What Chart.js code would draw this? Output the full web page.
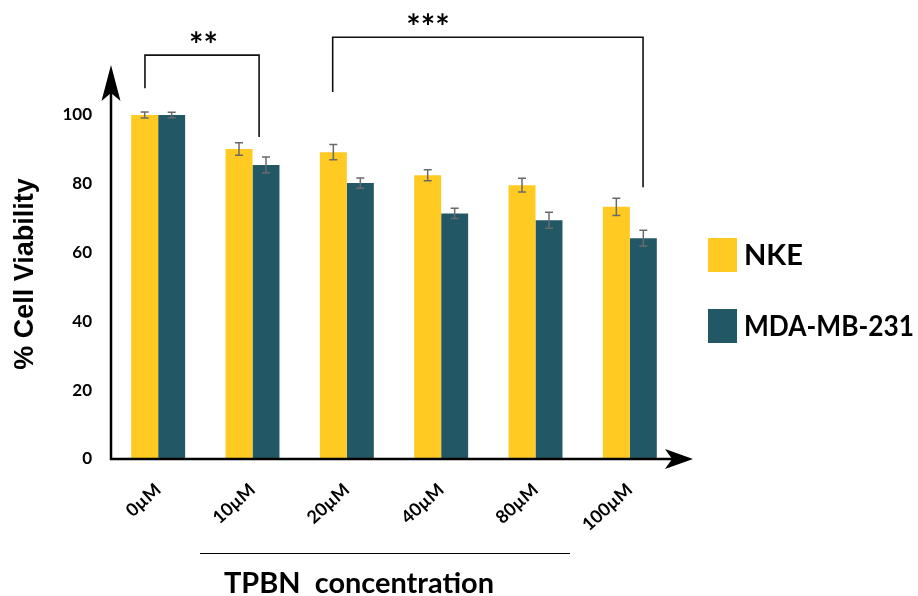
<!DOCTYPE html>
<html>
<head>
<meta charset="utf-8">
<script src="https://cdn.jsdelivr.net/npm/chart.js@4/dist/chart.umd.min.js"></script>
<style>
  html, body { margin: 0; padding: 0; background: #ffffff; }
  #wrap { width: 918px; height: 596px; position: relative; }
</style>
</head>
<body>
<div id="wrap"><canvas id="c" width="918" height="596"></canvas></div>
<script>
// ---- data ----
const categories = ['0µM', '10µM', '20µM', '40µM', '80µM', '100µM'];
const seriesNames = ['NKE', 'MDA-MB-231'];
const nkeValues = [100, 90.1, 89.2, 82.5, 79.6, 73.3];
const mdaValues = [100, 85.5, 80.2, 71.4, 69.4, 64.2];
const nkeErrors = [0.9, 1.8, 2.2, 1.6, 2.0, 2.5];
const mdaErrors = [0.8, 2.3, 1.5, 1.5, 2.3, 2.3];
const yTicks = [0, 20, 40, 60, 80, 100];
// significance brackets (x in category units, y in data units)
const brackets = [
  { x1: -0.14, x2: 1.07, yLeft: 107.8, yTop: 117.4, yRight: 93.6, labelX: 0.48, labelY: 122.4, label: '**' },
  { x1: 1.85, x2: 5.14, yLeft: 106.7, yTop: 122.6, yRight: 79.0, labelX: 2.86, labelY: 127.6, label: '***' }
];
const xTitle = 'TPBN  concentration';
const yTitle = '% Cell Viability';

const colors = ['#FFCB22', '#225866'];
const FONT = 'Lato, "Open Sans", sans-serif';

const errorBars = {
  id: 'errorBars',
  afterDatasetsDraw(chart) {
    const ctx = chart.ctx;
    const ys = chart.scales.y;
    const errs = [nkeErrors, mdaErrors];
    ctx.save();
    ctx.strokeStyle = '#6a6a6a';
    ctx.lineWidth = 1.5;
    chart.data.datasets.forEach((ds, di) => {
      const meta = chart.getDatasetMeta(di);
      meta.data.forEach((bar, i) => {
        const v = ds.data[i], e = errs[di][i];
        const yHi = ys.getPixelForValue(v + e), yLo = ys.getPixelForValue(v - e);
        const x = bar.x;
        ctx.beginPath();
        ctx.moveTo(x, yHi); ctx.lineTo(x, yLo);
        ctx.moveTo(x - 4, yHi); ctx.lineTo(x + 4, yHi);
        ctx.moveTo(x - 4, yLo); ctx.lineTo(x + 4, yLo);
        ctx.stroke();
      });
    });
    ctx.restore();
  }
};

function fitText(ctx, text, x, y, maxW) {
  const w = ctx.measureText(text).width;
  const s = Math.min(1, maxW / w);
  ctx.save();
  ctx.translate(x, y);
  ctx.scale(s, 1);
  ctx.fillText(text, 0, 0);
  ctx.restore();
}

const decorations = {
  id: 'decorations',
  afterDraw(chart) {
    const ctx = chart.ctx;
    const xs = chart.scales.x, ys = chart.scales.y;
    const a = chart.chartArea;
    ctx.save();
    // axes with arrows
    ctx.strokeStyle = '#000'; ctx.fillStyle = '#000'; ctx.lineWidth = 2.5;
    const tipY = a.top - 50, tipX = a.right + 16;
    ctx.beginPath();
    ctx.moveTo(a.left, a.bottom); ctx.lineTo(a.left, tipY + 20);
    ctx.moveTo(a.left - 1.2, a.bottom); ctx.lineTo(tipX - 20, a.bottom);
    ctx.stroke();
    // y arrowhead
    ctx.beginPath();
    ctx.moveTo(a.left, tipY);
    ctx.lineTo(a.left + 9.5, tipY + 36);
    ctx.lineTo(a.left, tipY + 28);
    ctx.lineTo(a.left - 9.5, tipY + 36);
    ctx.closePath(); ctx.fill();
    // x arrowhead
    ctx.beginPath();
    ctx.moveTo(tipX, a.bottom);
    ctx.lineTo(tipX - 28, a.bottom + 10);
    ctx.lineTo(tipX - 21, a.bottom);
    ctx.lineTo(tipX - 28, a.bottom - 10);
    ctx.closePath(); ctx.fill();

    // brackets
    ctx.lineWidth = 1.6;
    ctx.strokeStyle = '#111';
    brackets.forEach(b => {
      const x1 = xs.getPixelForValue(b.x1), x2 = xs.getPixelForValue(b.x2);
      ctx.beginPath();
      ctx.moveTo(x1, ys.getPixelForValue(b.yLeft));
      ctx.lineTo(x1, ys.getPixelForValue(b.yTop));
      ctx.lineTo(x2, ys.getPixelForValue(b.yTop));
      ctx.lineTo(x2, ys.getPixelForValue(b.yRight));
      ctx.stroke();
      ctx.font = 'bold 34px ' + FONT;
      ctx.textAlign = 'center'; ctx.textBaseline = 'alphabetic';
      ctx.fillStyle = '#000';
      ctx.fillText(b.label, xs.getPixelForValue(b.labelX), ys.getPixelForValue(b.labelY) + 19);
    });

    // y title
    ctx.save();
    ctx.translate(26, 274);
    ctx.rotate(-Math.PI / 2);
    ctx.font = 'bold 27px "Liberation Sans", Arial, sans-serif';
    ctx.textAlign = 'center'; ctx.textBaseline = 'middle';
    ctx.fillStyle = '#000';
    ctx.fillText(yTitle, 0, 0);
    ctx.restore();

    // legend
    ctx.textAlign = 'left'; ctx.textBaseline = 'middle';
    ctx.font = 'bold 29px ' + FONT;
    seriesNames.forEach((name, i) => {
      const y0 = 238 + i * 71;
      ctx.fillStyle = colors[i];
      ctx.fillRect(708, y0, 29, 34);
      ctx.fillStyle = '#000';
      fitText(ctx, name, 744, y0 + 18, 170);
    });

    // x title with rule
    ctx.strokeStyle = '#000'; ctx.lineWidth = 1;
    ctx.beginPath(); ctx.moveTo(200, 553.5); ctx.lineTo(570, 553.5); ctx.stroke();
    ctx.font = 'bold 29px ' + FONT;
    ctx.textAlign = 'left'; ctx.textBaseline = 'alphabetic';
    fitText(ctx, xTitle, 224, 593, 270);
    ctx.restore();
  }
};

new Chart(document.getElementById('c'), {
  type: 'bar',
  data: {
    labels: categories,
    datasets: [
      { label: seriesNames[0], data: nkeValues, backgroundColor: colors[0], borderWidth: 0 },
      { label: seriesNames[1], data: mdaValues, backgroundColor: colors[1], borderWidth: 0 }
    ]
  },
  options: {
    responsive: false,
    animation: false,
    devicePixelRatio: 1,
    layout: { padding: { left: 0, top: 115, right: 241, bottom: 0 } },
    categoryPercentage: 0.572,
    barPercentage: 1.0,
    plugins: { legend: { display: false }, tooltip: { enabled: false } },
    scales: {
      x: {
        grid: { display: false, drawTicks: false },
        border: { display: false },
        ticks: {
          autoSkip: false, minRotation: 42, maxRotation: 42, padding: 20,
          color: '#000', font: { family: FONT, weight: 'bold', size: 18 }
        },
        afterFit(s) { s.height = 137; }
      },
      y: {
        min: 0, max: 100,
        grid: { display: false, drawTicks: false },
        border: { display: false },
        afterBuildTicks(s) { s.ticks = yTicks.map(v => ({ value: v })); },
        ticks: { padding: 19, color: '#000', font: { family: FONT, weight: 'bold', size: 17 } },
        afterFit(s) { s.width = 111; }
      }
    }
  },
  plugins: [errorBars, decorations]
});
</script>
</body>
</html>
